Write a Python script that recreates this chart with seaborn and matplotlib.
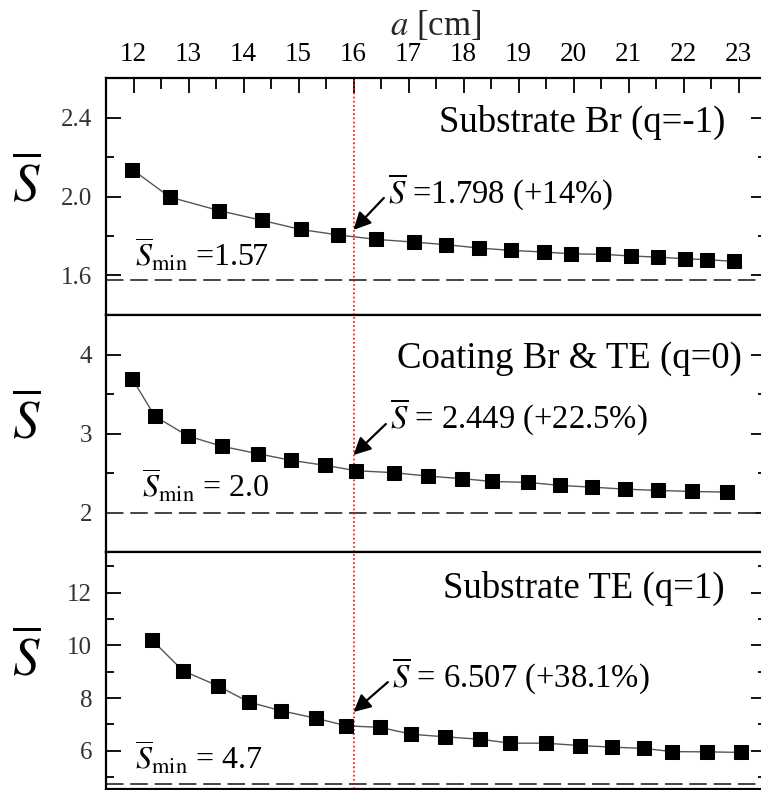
import matplotlib.pyplot as plt
import pandas as pd
import seaborn as sns
from matplotlib.ticker import FormatStrFormatter, MultipleLocator

# optimum aperture marked by the red dotted line
A_OPT = 16.0

# substrate Brownian (q=-1)
BR_A = [11.98, 12.66, 13.55, 14.34, 15.04, 15.71, 16.41, 17.10, 17.69, 18.28,
        18.87, 19.46, 19.95, 20.54, 21.04, 21.53, 22.02, 22.42, 22.91]
BR_S = [2.136, 1.997, 1.929, 1.879, 1.833, 1.806, 1.783, 1.769, 1.756, 1.739,
        1.727, 1.719, 1.710, 1.707, 1.699, 1.693, 1.685, 1.680, 1.672]
BR_SMIN = 1.577

# coating Brownian & thermo-elastic (q=0)
COAT_A = [11.98, 12.39, 12.99, 13.61, 14.26, 14.87, 15.49, 16.05, 16.73, 17.35,
          17.98, 18.52, 19.17, 19.75, 20.33, 20.93, 21.54, 22.16, 22.79]
COAT_S = [3.688, 3.218, 2.968, 2.838, 2.745, 2.660, 2.596, 2.529, 2.504, 2.461,
          2.428, 2.393, 2.381, 2.343, 2.321, 2.296, 2.279, 2.266, 2.258]
COAT_SMIN = 2.0

# substrate thermo-elastic (q=1)
TE_A = [12.33, 12.90, 13.53, 14.10, 14.69, 15.31, 15.87, 16.49, 17.05, 17.67,
        18.30, 18.85, 19.50, 20.11, 20.70, 21.29, 21.79, 22.42, 23.05]
TE_S = [10.22, 9.04, 8.47, 7.85, 7.52, 7.24, 6.95, 6.89, 6.63, 6.53,
        6.44, 6.29, 6.29, 6.20, 6.14, 6.09, 5.97, 5.96, 5.94]
TE_SMIN = 4.74

TITLES = ["Substrate Br (q=-1)", "Coating Br & TE (q=0)", "Substrate TE (q=1)"]
OPT_LABELS = [r"$\overline{S}$ =1.798 (+14%)",
              r"$\overline{S}$ = 2.449 (+22.5%)",
              r"$\overline{S}$ = 6.507 (+38.1%)"]
MIN_LABELS = [r"$\overline{S}_{\rm min}$ =1.57",
              r"$\overline{S}_{\rm min}$ = 2.0",
              r"$\overline{S}_{\rm min}$ = 4.7"]

sns.set_theme(style="ticks")
plt.rcParams["font.family"] = ["Liberation Serif", "DejaVu Serif"]
plt.rcParams["mathtext.fontset"] = "stix"
plt.rcParams["axes.linewidth"] = 1.6
plt.rcParams["axes.edgecolor"] = "black"
plt.rcParams["text.color"] = "black"
plt.rcParams["xtick.color"] = "black"
plt.rcParams["ytick.color"] = "black"


def _panel(ax, a, s, smin, title, opt_label, min_label, ylim, major, minor, fmt, layout):
    df = pd.DataFrame({"a": a, "S": s})
    sns.lineplot(data=df, x="a", y="S", ax=ax, color="#555555", linewidth=1.0,
                 marker="s", markersize=9.5, markerfacecolor="black",
                 markeredgecolor="black", zorder=3)
    ax.axhline(smin, color="#444444", linewidth=1.4, linestyle=(0, (9, 3.5)))
    ax.axvline(A_OPT, color="red", linewidth=1.2, linestyle=(0, (1, 1.5)), zorder=2)

    ax.set_xlim(11.5, 23.5)
    ax.set_ylim(*ylim)
    ax.xaxis.set_major_locator(MultipleLocator(1))
    ax.xaxis.set_minor_locator(MultipleLocator(0.5))
    ax.yaxis.set_major_locator(MultipleLocator(major))
    ax.yaxis.set_minor_locator(MultipleLocator(minor))
    ax.yaxis.set_major_formatter(FormatStrFormatter(fmt))
    ax.set_xlabel("")
    ax.set_ylabel("")

    ax.tick_params(axis="y", which="both", direction="in", left=True, right=True,
                   width=1.3, labelsize=18, labelcolor="#333333", pad=10)
    ax.tick_params(axis="y", which="major", length=11)
    ax.tick_params(axis="y", which="minor", length=6)
    ax.tick_params(axis="x", which="both", direction="in", bottom=False, top=False,
                   labelbottom=False, labeltop=False, width=1.3)

    title_x, title_y, min_x, min_y, txt_x, txt_y, tip_y, tail_y = layout
    ax.text(title_x, title_y, title, transform=ax.transAxes, ha="right",
            va="baseline", fontsize=26.5)
    ax.text(min_x, min_y, min_label, transform=ax.transAxes, ha="left",
            va="baseline", fontsize=23)
    ax.text(txt_x, txt_y, opt_label, transform=ax.transAxes, ha="left",
            va="baseline", fontsize=23.5)
    ax.annotate("", xy=(A_OPT, tip_y), xycoords=("data", "axes fraction"),
                xytext=(txt_x - 0.006, tail_y), textcoords="axes fraction",
                arrowprops=dict(arrowstyle="-|>", color="black", lw=1.6,
                                mutation_scale=26, shrinkA=0, shrinkB=0))
    ax.text(-0.12, 0.55, r"$\overline{S}$", transform=ax.transAxes,
            ha="center", va="center", fontsize=38)


fig = plt.figure(figsize=(7.61, 7.90), dpi=100)
left, width, height = 106 / 761, 660 / 761, 237 / 790
ax1 = fig.add_axes([left, 1 - 315 / 790, width, height])
ax2 = fig.add_axes([left, 1 - 552 / 790, width, height])
ax3 = fig.add_axes([left, 1 / 790, width, height])

_panel(ax1, BR_A, BR_S, BR_SMIN, TITLES[0], OPT_LABELS[0], MIN_LABELS[0],
       (1.4, 2.6), 0.4, 0.2, "%.1f",
       (0.938, 0.772, 0.044, 0.203, 0.427, 0.473, 0.359, 0.494))
_panel(ax2, COAT_A, COAT_S, COAT_SMIN, TITLES[1], OPT_LABELS[1], MIN_LABELS[1],
       (1.5, 4.5), 1, 0.5, "%d",
       (0.964, 0.776, 0.055, 0.228, 0.430, 0.523, 0.409, 0.540))
_panel(ax3, TE_A, TE_S, TE_SMIN, TITLES[2], OPT_LABELS[2], MIN_LABELS[2],
       (4.55, 13.55), 2, 1, "%d",
       (0.938, 0.806, 0.044, 0.080, 0.433, 0.430, 0.325, 0.451))

# top axis with the aperture scale
ax1.tick_params(axis="x", which="both", top=True, labeltop=True, labelsize=19.5,
                pad=8)
ax1.tick_params(axis="x", which="major", length=11)
ax1.tick_params(axis="x", which="minor", length=8)
ax1.xaxis.set_label_position("top")
ax1.set_xlabel(r"$a$ [cm]", fontsize=25, labelpad=5)

fig.savefig("out.png", dpi=100)
